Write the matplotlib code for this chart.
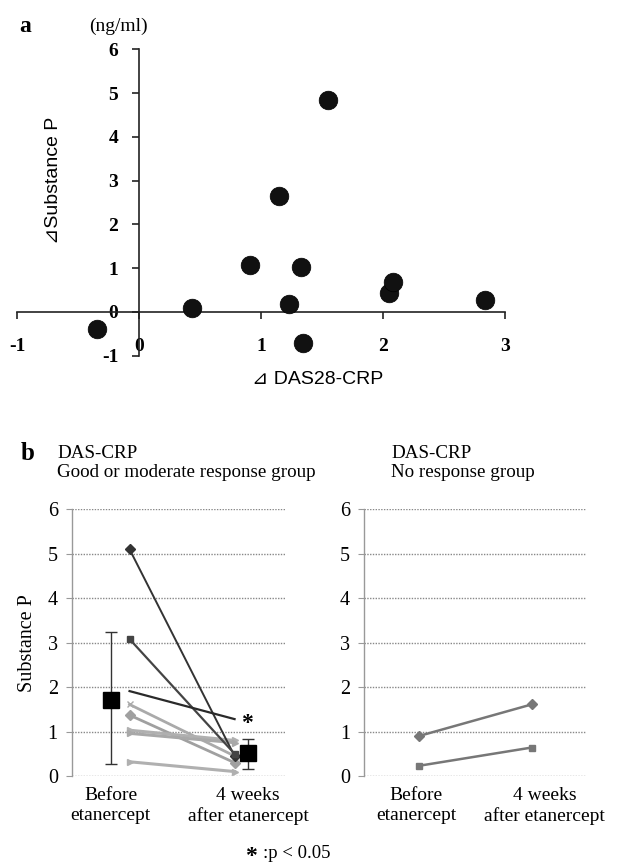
import matplotlib
matplotlib.use("Agg")
import matplotlib.pyplot as plt
import numpy as np

# ---------------- data ----------------
# Panel a: change in DAS28-CRP vs change in Substance P
da_das = [-0.35, 0.43, 0.91, 1.15, 1.23, 1.33, 1.34, 1.55, 2.05, 2.08, 2.84]
da_sp = [-0.38, 0.10, 1.08, 2.64, 0.19, 1.03, -0.70, 4.84, 0.43, 0.69, 0.28]
a_xticks = [-1, 0, 1, 2, 3]
a_yticks = [-1, 0, 1, 2, 3, 4, 5, 6]

# Panel b left: good / moderate responders
good_before = [5.10, 3.08, 1.91, 1.61, 1.37, 1.03, 0.96, 0.32]
good_after = [0.45, 0.50, 1.28, 0.45, 0.30, 0.80, 0.75, 0.10]
good_mean = [1.70, 0.51]
good_err_low = [0.27, 0.16]
good_err_high = [3.25, 0.83]

# Panel b right: no responders
no_before = [0.90, 0.23]
no_after = [1.61, 0.64]

b_yticks = [0, 1, 2, 3, 4, 5, 6]
time_labels = ["Before\netanercept", "4 weeks\nafter etanercept"]

# ---------------- style ----------------
SERIF = "Liberation Serif"
SANS = ["Liberation Sans", "DejaVu Sans"]
W, H = 617, 865
fig = plt.figure(figsize=(W / 100, H / 100), dpi=100)

def fx(px):
    return px / W

def fy(py):
    return 1 - py / H

# ---------------- panel a ----------------
axa = fig.add_axes([fx(17.3), fy(355.7), fx(505 - 17.3), (355.7 - 49.3) / H])
axa.set_xlim(-1, 3)
axa.set_ylim(-1, 6)
for s in ["top", "right"]:
    axa.spines[s].set_visible(False)
axa.spines["left"].set_position(("data", 0))
axa.spines["bottom"].set_position(("data", 0))
for s in ["left", "bottom"]:
    axa.spines[s].set_linewidth(1.2)
    axa.spines[s].set_color("#222222")
axa.set_xticks(a_xticks)
axa.set_yticks(a_yticks)
axa.set_xticklabels([str(t) for t in a_xticks], fontfamily=SERIF, fontweight="bold", fontsize=14)
axa.set_yticklabels([str(t) for t in a_yticks], fontfamily=SERIF, fontweight="bold", fontsize=14)
axa.tick_params(axis="x", direction="out", length=5, width=1.2, pad=14, color="#222222")
axa.tick_params(axis="y", direction="out", length=5, width=1.2, pad=10, color="#222222")
axa.scatter(da_das, da_sp, s=180, color="#111111", edgecolors="#000000", linewidths=0.5,
            zorder=3, clip_on=False)
axa.patch.set_alpha(0)

fig.text(fx(53), fy(180), "⊿Substance P", rotation=90, ha="center", va="center",
         fontfamily=SANS, fontsize=14)
fig.text(fx(318), fy(380), "⊿ DAS28-CRP", ha="center", va="center",
         fontfamily=SANS, fontsize=14)
fig.text(fx(118), fy(26), "(ng/ml)", ha="center", va="center", fontfamily=SERIF, fontsize=14)
fig.text(fx(25), fy(26), "a", ha="center", va="center", fontfamily=SERIF,
         fontweight="bold", fontsize=17)

# ---------------- panel b ----------------
def style_b(ax):
    ax.set_xlim(0, 1)
    ax.set_ylim(0, 6)
    for s in ["top", "right", "bottom"]:
        ax.spines[s].set_visible(False)
    ax.spines["left"].set_linestyle((0, (1, 1)))
    ax.spines["left"].set_color("#999999")
    ax.spines["left"].set_linewidth(1.0)
    ax.set_yticks(b_yticks)
    ax.set_yticklabels([str(t) for t in b_yticks], fontfamily=SERIF, fontsize=14.5)
    ax.tick_params(axis="y", length=4, color="#999999", pad=6)
    ax.tick_params(axis="x", length=0, pad=8)
    for v in b_yticks:
        ax.axhline(v, color="#888888", lw=1.0, ls=(0, (1, 1)), zorder=0)

b_bottom = fy(776)
b_height = (776 - 509.3) / H

axl = fig.add_axes([fx(71.7), b_bottom, fx(286 - 71.7), b_height])
style_b(axl)
lx_before, lx_after = 0.27, 0.76
mean_x = [0.182, 0.823]
line_colors = ["#333333", "#444444", "#2a2a2a", "#aaaaaa", "#a0a0a0", "#b0b0b0", "#a8a8a8", "#b0b0b0"]
line_widths = [1.4, 1.6, 1.6, 2.0, 2.0, 2.2, 2.2, 2.2]
line_markers = ["D", "s", "", "x", "D", ">", ">", ">"]
order = [3, 4, 5, 6, 7, 0, 1, 2]
for i in order:
    axl.plot([lx_before, lx_after], [good_before[i], good_after[i]], color=line_colors[i],
             lw=line_widths[i], marker=line_markers[i] if line_markers[i] else None,
             markersize=5, markeredgewidth=1, zorder=2 if i >= 3 else 3)
yerr = [[m - lo for m, lo in zip(good_mean, good_err_low)],
        [hi - m for m, hi in zip(good_mean, good_err_high)]]
axl.errorbar(mean_x, good_mean, yerr=yerr, fmt="s", color="#000000", ecolor="#333333",
             elinewidth=1.0, capsize=4, capthick=1.0, markersize=11, zorder=4, clip_on=False)
axl.set_xticks(mean_x)
axl.set_xticklabels(time_labels, fontfamily=SERIF, fontsize=14, linespacing=1.2)
axl.set_ylabel("Substance P", fontfamily=SERIF, fontsize=14.5, labelpad=8)
axl.text(0.818, 1.17, "*", ha="center", va="center", fontfamily=SERIF, fontsize=17,
         fontweight="bold")

axr = fig.add_axes([fx(364), b_bottom, fx(586 - 364), b_height])
style_b(axr)
rx_before, rx_after = 0.248, 0.755
r_markers = ["D", "s"]
for i in range(len(no_before)):
    axr.plot([rx_before, rx_after], [no_before[i], no_after[i]], color="#777777", lw=1.8,
             marker=r_markers[i], markersize=5, zorder=3)
axr.set_xticks([0.235, 0.815])
axr.set_xticklabels(time_labels, fontfamily=SERIF, fontsize=14, linespacing=1.2)

fig.text(fx(28), fy(453), "b", ha="center", va="center", fontfamily=SERIF,
         fontweight="bold", fontsize=18)
fig.text(fx(57), fy(463), "DAS-CRP\nGood or moderate response group", ha="left", va="center",
         fontfamily=SERIF, fontsize=13.7, linespacing=1.15)
fig.text(fx(391), fy(463), "DAS-CRP\nNo response group", ha="left", va="center",
         fontfamily=SERIF, fontsize=13.7, linespacing=1.15)
fig.text(fx(251), fy(856), "*", ha="center", va="center", fontfamily=SERIF,
         fontsize=17, fontweight="bold")
fig.text(fx(263), fy(854), ":p < 0.05", ha="left", va="center", fontfamily=SERIF,
         fontsize=13.5)

fig.savefig("out.png", dpi=100)
